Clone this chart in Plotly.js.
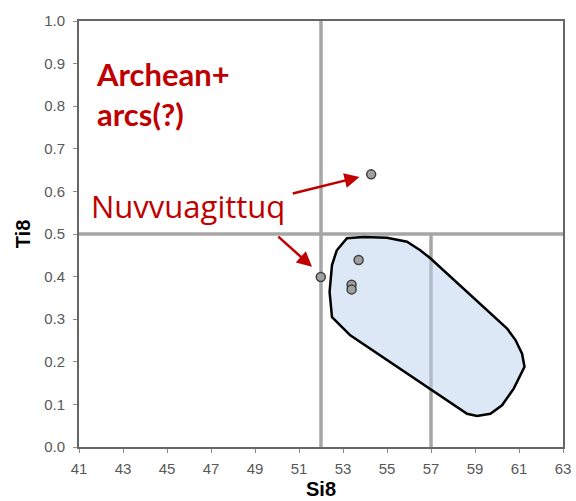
<!DOCTYPE html>
<html>
<head>
<meta charset="utf-8">
<script src="https://cdn.plot.ly/plotly-3.0.1.min.js"></script>
<style>html,body{margin:0;padding:0;background:#fff;}#chart{width:576px;height:501px;}</style>
</head>
<body>
<div id="chart"></div>
<script>
// Sample points (Si8, Ti8)
const pointSi8 = [54.28, 51.99, 53.71, 53.39, 53.39];
const pointTi8 = [0.640, 0.399, 0.439, 0.381, 0.370];

// Outline of the shaded field
const fieldSi8 = [52.72, 53.18, 53.93, 55.00, 55.91, 56.51, 56.97, 60.46, 60.84, 61.14, 61.25, 60.76, 60.23, 59.70, 59.09, 58.64, 53.33, 52.50, 52.39, 52.50, 52.72];
const fieldTi8 = [0.462, 0.490, 0.493, 0.491, 0.482, 0.462, 0.443, 0.278, 0.251, 0.219, 0.188, 0.137, 0.098, 0.078, 0.073, 0.078, 0.262, 0.305, 0.364, 0.427, 0.462];

// Axis ticks
const xTicks = [41, 43, 45, 47, 49, 51, 53, 55, 57, 59, 61, 63];
const yTicks = [0.0, 0.1, 0.2, 0.3, 0.4, 0.5, 0.6, 0.7, 0.8, 0.9, 1.0];

// Divider lines
const siDividers = [52, 57];
const tiDivider = 0.5;

const red = '#c00000';
const gridGray = '#a6a6a6';

const traces = [
  {
    x: fieldSi8, y: fieldTi8, type: 'scatter', mode: 'lines',
    fill: 'toself', fillcolor: 'rgba(186,210,238,0.5)',
    line: {color: '#000', width: 2.5}, hoverinfo: 'skip', showlegend: false
  },
  {
    x: pointSi8, y: pointTi8, type: 'scatter', mode: 'markers',
    marker: {size: 9, color: '#a0a0a0', line: {color: '#404040', width: 1.5}},
    showlegend: false
  }
];

const layout = {
  width: 576, height: 501,
  margin: {l: 79, r: 13, t: 21, b: 54},
  paper_bgcolor: '#fff', plot_bgcolor: '#fff',
  font: {family: 'Liberation Sans, Arial, sans-serif', color: '#595959'},
  xaxis: {
    range: [41, 63], tickvals: xTicks, ticktext: xTicks.map(String),
    showgrid: false, zeroline: false,
    showline: true, linecolor: '#666666', linewidth: 2, mirror: true,
    ticks: 'outside', ticklen: 4, tickcolor: '#8c8c8c', tickwidth: 1,
    tickfont: {size: 15, color: '#595959'}, ticklabelstandoff: 3,
    title: {text: 'Si8', font: {size: 20, color: '#000', family: 'Liberation Sans, Arial, sans-serif', weight: 'bold'}, standoff: 6}
  },
  yaxis: {
    range: [0, 1], tickvals: yTicks, ticktext: yTicks.map(v => v.toFixed(1)),
    showgrid: false, zeroline: false,
    showline: true, linecolor: '#666666', linewidth: 2, mirror: true,
    ticks: 'outside', ticklen: 4, tickcolor: '#8c8c8c', tickwidth: 1,
    tickfont: {size: 15, color: '#595959'}, ticklabelstandoff: 5,
    title: {text: 'Ti8', font: {size: 20, color: '#000', family: 'Liberation Sans, Arial, sans-serif', weight: 'bold'}, standoff: 8}
  },
  shapes: [
    {type: 'line', layer: 'below', xref: 'x', yref: 'y', x0: siDividers[0], x1: siDividers[0], y0: 0, y1: 1, line: {color: gridGray, width: 3.5}},
    {type: 'line', layer: 'below', xref: 'x', yref: 'y', x0: siDividers[1], x1: siDividers[1], y0: 0, y1: tiDivider, line: {color: gridGray, width: 3.5}},
    {type: 'line', layer: 'below', xref: 'x', yref: 'y', x0: 41, x1: 63, y0: tiDivider, y1: tiDivider, line: {color: gridGray, width: 3.5}}
  ],
  annotations: [
    {xref: 'x', yref: 'y', x: 41.7, y: 0.925, xanchor: 'left', yanchor: 'top', showarrow: false, align: 'left',
     text: '<b>Archean+<br>arcs(?)</b>', font: {family: 'Lato, Open Sans, sans-serif', size: 31, color: red}},
    {xref: 'x', yref: 'y', x: 41.45, y: 0.565, xanchor: 'left', yanchor: 'middle', showarrow: false,
     text: 'Nuvvuagittuq', font: {family: 'Open Sans, Lato, sans-serif', size: 31, color: red}},
    {xref: 'x', yref: 'y', axref: 'x', ayref: 'y', x: 53.75, y: 0.634, ax: 50.65, ay: 0.594, text: '',
     showarrow: true, arrowhead: 2, arrowsize: 1.2, arrowwidth: 2.5, arrowcolor: red},
    {xref: 'x', yref: 'y', axref: 'x', ayref: 'y', x: 51.59, y: 0.423, ax: 49.99, ay: 0.497, text: '',
     showarrow: true, arrowhead: 2, arrowsize: 1.2, arrowwidth: 2.5, arrowcolor: red}
  ]
};

Plotly.newPlot('chart', traces, layout, {displayModeBar: false, staticPlot: true});
</script>
</body>
</html>
